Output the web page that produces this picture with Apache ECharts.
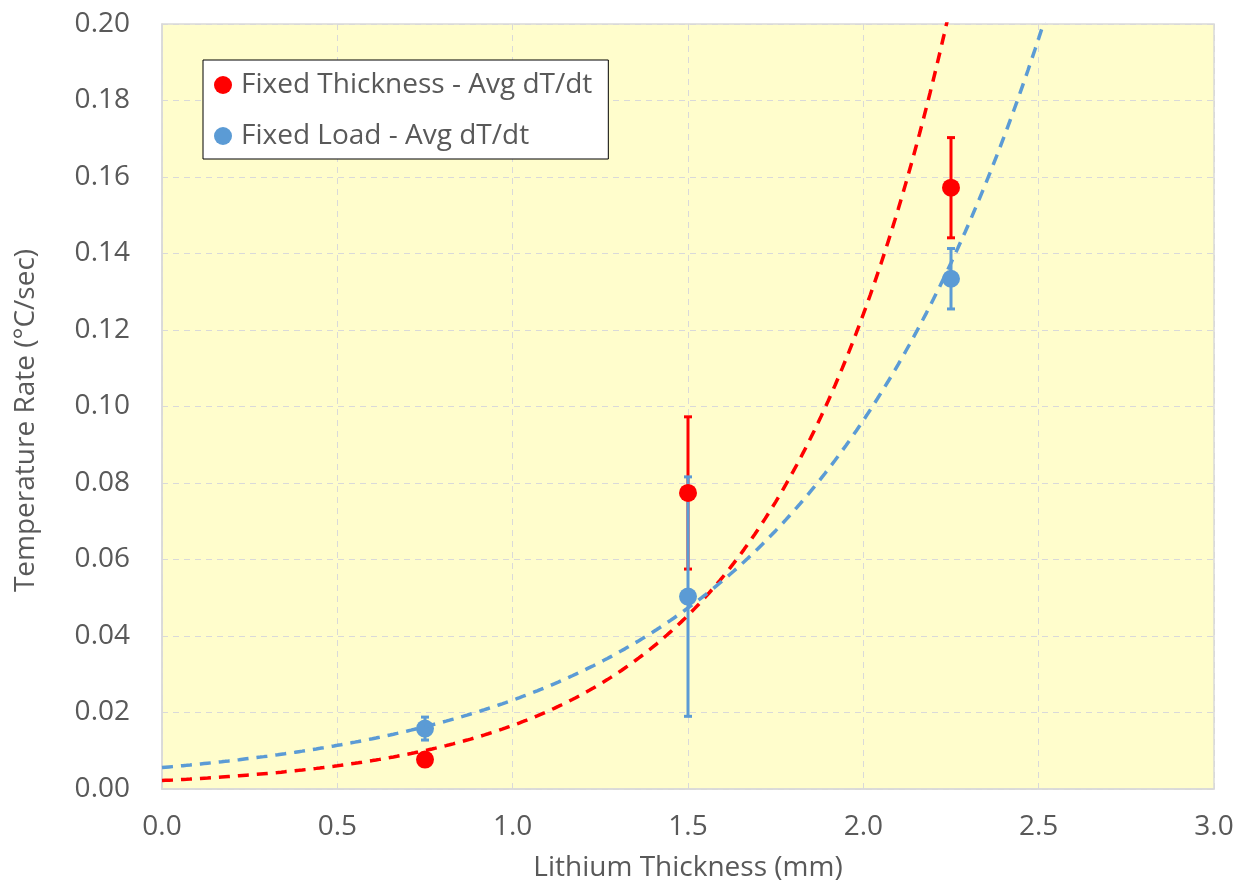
<!DOCTYPE html>
<html>
<head>
<meta charset="utf-8">
<script src="https://cdn.jsdelivr.net/npm/echarts@6/dist/echarts.min.js"></script>
<style>
  html, body { margin: 0; padding: 0; background: #ffffff; }
  #chart { width: 1241px; height: 889px; }
</style>
</head>
<body>
<div id="chart"></div>
<script>
// Lithium thickness (mm) at which each set was measured
const thickness = [0.75, 1.5, 2.25];

// Average temperature rate (°C/sec) and error-bar half-widths
const fixedThicknessRate = [0.0077, 0.0774, 0.1572];
const fixedThicknessErr  = [0, 0.0199, 0.0131];
const fixedLoadRate      = [0.0158, 0.0503, 0.1334];
const fixedLoadErr       = [0.003, 0.0313, 0.0079];

const seriesNames = ['Fixed Thickness - Avg dT/dt', 'Fixed Load - Avg dT/dt'];

const RED = '#FF0000';
const BLUE = '#5B9BD5';
const TEXT = '#595959';
const FONT = '"Open Sans", "Noto Sans", sans-serif';
const FS = 28;

// Exponential least-squares fit y = a * e^(b x), as a spreadsheet trendline does
function expFit(xs, ys) {
  const n = xs.length;
  const ly = ys.map(Math.log);
  const mx = xs.reduce((s, v) => s + v, 0) / n;
  const my = ly.reduce((s, v) => s + v, 0) / n;
  let sxy = 0, sxx = 0;
  for (let i = 0; i < n; i++) {
    sxy += (xs[i] - mx) * (ly[i] - my);
    sxx += (xs[i] - mx) * (xs[i] - mx);
  }
  const b = sxy / sxx;
  const a = Math.exp(my - b * mx);
  return x => a * Math.exp(b * x);
}

function trendPoints(fn) {
  const pts = [];
  for (let i = 0; i <= 300; i++) {
    const x = i * 0.01;
    pts.push([x, fn(x)]);
  }
  return pts;
}

function points(ys) { return thickness.map((x, i) => [x, ys[i]]); }
function bars(ys, errs) {
  return thickness
    .map((x, i) => [x, ys[i] - errs[i], ys[i] + errs[i]])
    .filter((d, i) => errs[i] > 0);
}

// Vertical error bar with end caps
function errorBarItem(color) {
  return function (params, api) {
    const lo = api.coord([api.value(0), api.value(1)]);
    const hi = api.coord([api.value(0), api.value(2)]);
    const cap = 4;
    const style = { stroke: color, lineWidth: 3 };
    return {
      type: 'group',
      children: [
        { type: 'line', shape: { x1: lo[0], y1: lo[1], x2: hi[0], y2: hi[1] }, style },
        { type: 'line', shape: { x1: lo[0] - cap, y1: lo[1], x2: lo[0] + cap, y2: lo[1] }, style },
        { type: 'line', shape: { x1: hi[0] - cap, y1: hi[1], x2: hi[0] + cap, y2: hi[1] }, style }
      ]
    };
  };
}

const chart = echarts.init(document.getElementById('chart'), null, { renderer: 'canvas' });

chart.setOption({
  animation: false,
  backgroundColor: '#ffffff',
  textStyle: { fontFamily: FONT },
  grid: {
    left: 162, top: 24, right: 27, bottom: 100,
    outerBoundsMode: 'none',
    containLabel: false,
    show: true,
    backgroundColor: '#FFFDCC',
    borderColor: '#D9D9D9',
    borderWidth: 1.5
  },
  legend: {
    data: seriesNames,
    orient: 'vertical',
    left: 203,
    top: 60,
    backgroundColor: '#ffffff',
    borderColor: '#000000',
    borderWidth: 1,
    padding: [10, 16, 8, 11],
    itemGap: 21,
    itemWidth: 18,
    itemHeight: 18,
    icon: 'circle',
    textStyle: { fontSize: FS, color: TEXT, fontFamily: FONT, lineHeight: 30, padding: [0, 0, 0, 4] }
  },
  xAxis: {
    type: 'value',
    min: 0, max: 3, interval: 0.5,
    name: 'Lithium Thickness (mm)',
    nameLocation: 'middle',
    nameGap: 65,
    nameTextStyle: { fontSize: FS, color: TEXT, fontFamily: FONT },
    axisLine: { show: true, lineStyle: { color: '#D9D9D9', width: 1.5 } },
    axisTick: { show: false },
    axisLabel: {
      fontSize: FS, color: TEXT, fontFamily: FONT, margin: 24,
      formatter: v => v.toFixed(1)
    },
    splitLine: { show: true, lineStyle: { color: '#D9D9D9', type: [6, 5], width: 1 } }
  },
  yAxis: {
    type: 'value',
    min: 0, max: 0.2, interval: 0.02,
    name: 'Temperature Rate (°C/sec)',
    nameLocation: 'middle',
    nameGap: 122,
    nameRotate: 90,
    nameTextStyle: { fontSize: FS, color: TEXT, fontFamily: FONT, padding: [0, 28, 0, 0] },
    axisLine: { show: true, lineStyle: { color: '#D9D9D9', width: 1.5 } },
    axisTick: { show: false },
    axisLabel: {
      fontSize: FS, color: TEXT, fontFamily: FONT, margin: 32,
      formatter: v => v.toFixed(2)
    },
    splitLine: { show: true, lineStyle: { color: '#D9D9D9', type: [6, 5], width: 1 } }
  },
  series: [
    {
      name: 'Fixed Thickness error',
      type: 'custom',
      renderItem: errorBarItem(RED),
      data: bars(fixedThicknessRate, fixedThicknessErr),
      encode: { x: 0, y: [1, 2] },
      z: 2,
      silent: true
    },
    {
      name: 'Fixed Load error',
      type: 'custom',
      renderItem: errorBarItem(BLUE),
      data: bars(fixedLoadRate, fixedLoadErr),
      encode: { x: 0, y: [1, 2] },
      z: 3,
      silent: true
    },
    {
      name: seriesNames[0],
      type: 'scatter',
      data: points(fixedThicknessRate),
      symbol: 'circle',
      symbolSize: 18,
      itemStyle: { color: RED, opacity: 1 },
      z: 5
    },
    {
      name: seriesNames[1],
      type: 'scatter',
      data: points(fixedLoadRate),
      symbol: 'circle',
      symbolSize: 18,
      itemStyle: { color: BLUE, opacity: 1 },
      z: 4
    },
    {
      name: 'Expon. (Fixed Thickness - Avg dT/dt)',
      type: 'line',
      data: trendPoints(expFit(thickness, fixedThicknessRate)),
      showSymbol: false,
      clip: true,
      lineStyle: { color: RED, width: 3.5, type: [11, 8] },
      z: 6,
      silent: true
    },
    {
      name: 'Expon. (Fixed Load - Avg dT/dt)',
      type: 'line',
      data: trendPoints(expFit(thickness, fixedLoadRate)),
      showSymbol: false,
      clip: true,
      lineStyle: { color: BLUE, width: 3.5, type: [11, 8] },
      z: 6,
      silent: true
    }
  ]
});
</script>
</body>
</html>
